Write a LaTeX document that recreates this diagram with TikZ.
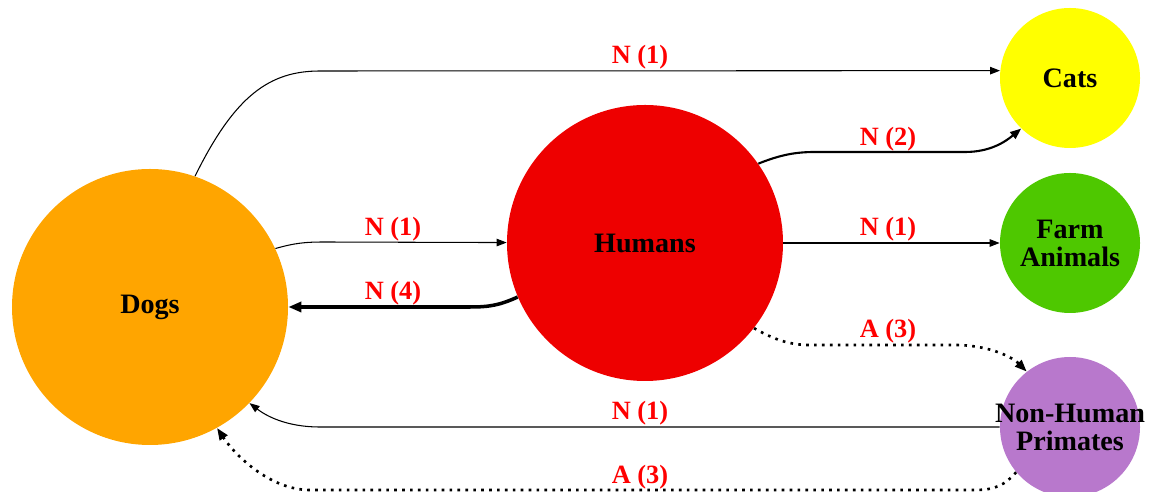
\documentclass[tikz,border=0pt]{standalone}
\usepackage{fontspec}
\setmainfont{Liberation Serif}
\usepackage{xcolor}
\usepackage{tikz}
\usetikzlibrary{arrows.meta}
\definecolor{dogorange}{HTML}{FFA500}
\definecolor{humred}{HTML}{EE0000}
\definecolor{catyellow}{HTML}{FFFF00}
\definecolor{farmgreen}{HTML}{4EC800}
\definecolor{nhpurple}{HTML}{B878CC}
\definecolor{lblred}{HTML}{FF0000}

\begin{document}
\begin{tikzpicture}[x=0.2mm,y=-0.2mm,
  big/.style={circle,draw=none,minimum size=55.2mm,inner sep=0pt,align=center,font=\fontsize{16}{16}\selectfont\bfseries},
  small/.style={circle,draw=none,minimum size=28mm,inner sep=0pt,align=center,font=\fontsize{16}{16}\selectfont\bfseries},
  txt/.style={inner sep=0pt,align=center,font=\fontsize{16}{16}\selectfont\bfseries},
  lbl/.style={text=lblred,inner sep=0pt,font=\fontsize{15}{15}\selectfont\bfseries},
  ar/.style={-{Triangle[length=2mm,width=1.5mm]},line width=0.6pt},
  arm/.style={-{Triangle[length=2.2mm,width=1.7mm]},line width=1.2pt},
  arb/.style={-{Triangle[length=2.6mm,width=2mm]},line width=2pt},
  dt/.style={-{Triangle[length=2.4mm,width=1.8mm]},line width=1.5pt,dash pattern=on 1.5pt off 3pt}]
  \useasboundingbox (0,0) rectangle (1149,492);
  % animals
  \node[big,fill=dogorange] (dogs) at (150,307) {Dogs};
  \node[big,fill=humred] (humans) at (645,243) {Humans};
  \node[small,fill=catyellow] (cats) at (1070,78) {Cats};
  \node[small,fill=farmgreen] (farm) at (1070,243) {Farm\\Animals};
  \node[small,fill=nhpurple] (nhp) at (1070,427) {};
  \node[txt] (nhptext) at (nhp) {Non-Human\\Primates};
  % edges
  \draw[ar] (dogs.71) .. controls (235,95) and (270,71) .. (320,71) -- (cats.174);
  \draw[ar] (dogs.25) .. controls (295,243) and (305,242) .. (325,242) -- (humans);
  \draw[arb] (humans.203) .. controls (500,305) and (490,307) .. (470,307) -- (dogs);
  \draw[arm] (humans.35) .. controls (780,155) and (795,152) .. (815,152) -- (965,152) .. controls (990,152) and (1005,142) .. (cats.226);
  \draw[ar] (humans) -- (farm);
  \draw[dt] (humans.322) .. controls (775,340) and (790,345) .. (810,345) -- (955,345) .. controls (985,345) and (1010,355) .. (nhp.128);
  \draw[ar] (nhp.180) -- (320,427) .. controls (285,427) and (265,415) .. (dogs.-44);
  \draw[dt] (nhp.220) .. controls (1005,485) and (995,490) .. (975,490) -- (310,490) .. controls (270,490) and (235,455) .. (dogs.-61);
  % labels
  \node[lbl] (l1) at (640,57) {N (1)};
  \node[lbl] (l2) at (393,229) {N (1)};
  \node[lbl] (l3) at (393,293) {N (4)};
  \node[lbl] (l4) at (888,139) {N (2)};
  \node[lbl] (l5) at (888,229) {N (1)};
  \node[lbl] (l6) at (888,331) {A (3)};
  \node[lbl] (l7) at (640,413) {N (1)};
  \node[lbl] (l8) at (640,477) {A (3)};
\end{tikzpicture}
\end{document}
